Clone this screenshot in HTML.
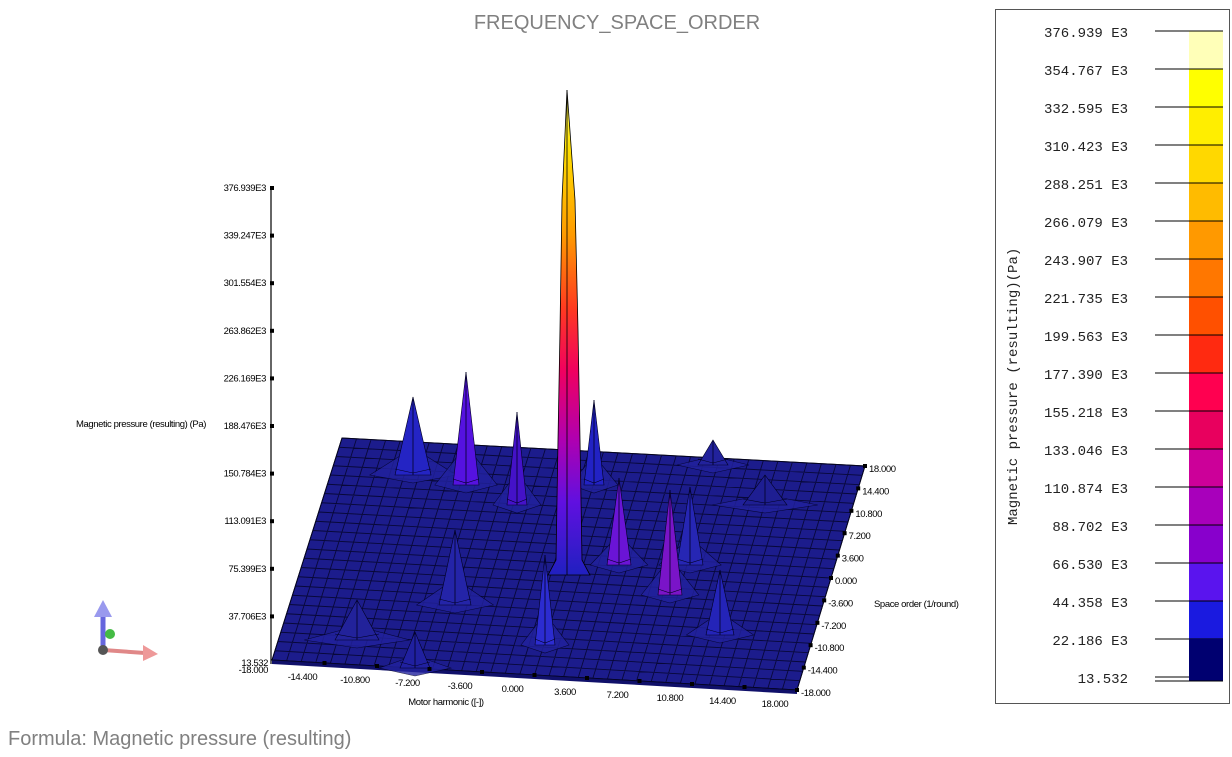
<!DOCTYPE html>
<html><head><meta charset="utf-8"><style>
body{margin:0;background:#fff;width:1232px;height:752px;overflow:hidden;font-family:"Liberation Sans",Arial,sans-serif}
</style></head><body>
<svg id="s" width="1232" height="752" viewBox="0 0 1232 752" xmlns="http://www.w3.org/2000/svg">
<defs>
<linearGradient id="mg" gradientUnits="userSpaceOnUse" x1="0" y1="90" x2="0" y2="575">
<stop offset="0" stop-color="#ffff60"/><stop offset="0.12" stop-color="#ffe000"/>
<stop offset="0.3" stop-color="#ff9a00"/><stop offset="0.45" stop-color="#ff3a20"/>
<stop offset="0.58" stop-color="#f00060"/><stop offset="0.72" stop-color="#b000b0"/>
<stop offset="0.85" stop-color="#6010e0"/><stop offset="1" stop-color="#2020c0"/>
</linearGradient>
</defs>
<text x="617" y="29" font-size="20" fill="#808080" text-anchor="middle">FREQUENCY_SPACE_ORDER</text>
<text x="8" y="745" font-size="20" fill="#808080">Formula: Magnetic pressure (resulting)</text>
<g id="surf"></g>
<g id="spk"></g>
<g font-size="9.5" fill="#000" letter-spacing="-0.4">
<line x1="271" y1="188" x2="271" y2="664" stroke="#000" stroke-width="1.2"/>
<g id="yt" text-anchor="end"></g>
<text x="206" y="427" text-anchor="end">Magnetic pressure (resulting) (Pa)</text>
<text x="268" y="666" text-anchor="end">13.532</text>
<text x="268" y="673" text-anchor="end">-18.000</text>
<g id="xt" text-anchor="middle"></g>
<g id="zt"></g>
<text x="446" y="705" text-anchor="middle">Motor harmonic ([-])</text>
<text x="874" y="607">Space order (1/round)</text>
</g>
<g>
<line x1="103" y1="612" x2="103" y2="648" stroke="#6666dd" stroke-width="5"/>
<polygon points="94,617 112,617 103,600" fill="#9999ee"/>
<circle cx="110" cy="634" r="5" fill="#44bb44"/>
<line x1="103" y1="650" x2="145" y2="653" stroke="#e08888" stroke-width="4"/>
<polygon points="143,645 158,654 143,661" fill="#ee9999"/>
<circle cx="103" cy="650" r="5" fill="#555"/>
</g>
<rect x="995.5" y="9.5" width="234" height="694" fill="#fff" stroke="#555"/>
<g id="leg" font-family="'Liberation Mono',monospace" font-size="14" fill="#222"></g>
<text transform="translate(1017,525) rotate(-90)" font-family="'Liberation Mono',monospace" font-size="14" fill="#222">Magnetic pressure (resulting)(Pa)</text>
</svg>
<script>
var NS="http://www.w3.org/2000/svg";
function el(p,t,a,txt){var e=document.createElementNS(NS,t);for(var k in a)e.setAttribute(k,a[k]);if(txt!=null)e.textContent=txt;p.appendChild(e);return e;}
var FL=[272,660],FR=[797,690],BR=[865,466],BL=[342,438];
function P(u,v){var a=[FL[0]+(FR[0]-FL[0])*u,FL[1]+(FR[1]-FL[1])*u],b=[BL[0]+(BR[0]-BL[0])*u,BL[1]+(BR[1]-BL[1])*u];return[a[0]+(b[0]-a[0])*v,a[1]+(b[1]-a[1])*v];}
var g=document.getElementById('surf');
el(g,'polygon',{points:[FL,FR,BR,BL].map(p=>p.join(',')).join(' '),fill:'#1c1c8c',stroke:'#000'});
el(g,'polygon',{points:"272,660 797,690 797,694 272,664",fill:'#10106a'});
var NU=36,NV=24,d='';
for(var i=0;i<=NU;i++){var a=P(i/NU,0),b=P(i/NU,1);d+='M'+a[0]+' '+a[1]+'L'+b[0]+' '+b[1];}
for(var j=0;j<=NV;j++){var a=P(0,j/NV),b=P(1,j/NV);d+='M'+a[0]+' '+a[1]+'L'+b[0]+' '+b[1];}
el(g,'path',{d:d,stroke:'#05052a',"stroke-width":0.9,fill:'none',opacity:0.85});
var s=document.getElementById('spk');
var sp=[[357,600,640,22,'#22229a'],[455,530,605,16,'#2424a8'],[415,632,668,15,'#2020a0'],[765,475,505,22,'#1e1e92'],[713,440,465,15,'#22229c'],
[413,397,475,18,'#2424c4'],[466,372,485,13,'#5512e0'],[517,412,505,10,'#4412c8'],[594,400,485,10,'#2222c4'],
[690,487,565,13,'#2626b4'],[619,478,565,12,'#6a14d6'],[670,490,595,12,'#7a14c8'],[720,570,635,14,'#2424b8'],[545,555,645,10,'#2c2cd0']];
sp.forEach(function(q){
 var w=q[3]*2.4,h=(q[2]-q[1])*0.35;
 el(s,'polygon',{points:(q[0]-w)+','+q[2]+' '+q[0]+','+(q[2]-h)+' '+(q[0]+w)+','+q[2]+' '+q[0]+','+(q[2]+8),fill:'#22229e',stroke:'#000022','stroke-width':0.6,opacity:0.8});
 el(s,'polygon',{points:q[0]+','+q[1]+' '+(q[0]+q[3])+','+q[2]+' '+(q[0]-q[3])+','+q[2],fill:q[4],stroke:'#000022','stroke-width':0.6});
 el(s,'line',{x1:q[0],y1:q[1],x2:q[0],y2:q[2],stroke:'#000022','stroke-width':0.8});
 el(s,'polyline',{points:(q[0]-q[3])+','+(q[2]-6)+' '+q[0]+','+(q[2]-2)+' '+(q[0]+q[3])+','+(q[2]-6),stroke:'#000022','stroke-width':0.6,fill:'none'});
});
el(s,'path',{d:'M567 90 L575 200 L578 330 L580 440 L582 560 L590 575 L548 575 L556 560 L558 440 L560 330 L562 200 Z',fill:'url(#mg)',stroke:'#000','stroke-width':0.8});
el(s,'line',{x1:567,y1:90,x2:567,y2:575,stroke:'#000','stroke-width':0.8});
var yt=document.getElementById('yt');
var yl=['376.939E3','339.247E3','301.554E3','263.862E3','226.169E3','188.476E3','150.784E3','113.091E3','75.399E3','37.706E3'];
yl.forEach(function(t,i){var y=188+i*47.6;el(yt,'rect',{x:270,y:y-2,width:4,height:4,fill:'#000'});el(yt,'text',{x:266,y:y+3},t);});
var xt=document.getElementById('xt');
var xl=['-14.400','-10.800','-7.200','-3.600','0.000','3.600','7.200','10.800','14.400','18.000'];
xl.forEach(function(t,i){var p=P((i+1)/10,0);el(xt,'rect',{x:p[0]-2,y:p[1]-2,width:4,height:4,fill:'#000'});el(xt,'text',{x:p[0]-22,y:p[1]+17},t);});
var zt=document.getElementById('zt');
var zl=['-18.000','-14.400','-10.800','-7.200','-3.600','0.000','3.600','7.200','10.800','14.400','18.000'];
zl.forEach(function(t,i){var p=P(1,i/10);el(zt,'rect',{x:p[0]-2,y:p[1]-2,width:4,height:4,fill:'#000'});el(zt,'text',{x:p[0]+4,y:p[1]+6},t);});
var lg=document.getElementById('leg');
var cols=['#ffffb8','#ffff00','#ffee00','#ffd800','#ffbb00','#ff9900','#ff7700','#ff5000','#ff2a10','#ff0050','#e8005e','#cc0099','#a800bb','#8800cc','#5a14ee','#1a1ae0','#0a0ab0','#000070'];
var labs=['376.939 E3','354.767 E3','332.595 E3','310.423 E3','288.251 E3','266.079 E3','243.907 E3','221.735 E3','199.563 E3','177.390 E3','155.218 E3','133.046 E3','110.874 E3','88.702 E3','66.530 E3','44.358 E3','22.186 E3','13.532'];
for(var i=0;i<18;i++){var y=31+i*38;
 if(i<17){el(lg,'rect',{x:1189,y:y,width:34,height:38,fill:cols[i]});}
 el(lg,'line',{x1:1155,y1:y,x2:1223,y2:y,stroke:'#000'});
 el(lg,'text',{x:1128,y:y+6,'text-anchor':'end'},labs[i]);}
el(lg,'rect',{x:1189,y:639,width:34,height:42,fill:'#000070'});
el(lg,'line',{x1:1155,y1:681,x2:1223,y2:681,stroke:'#000'});
</script>
</body></html>
